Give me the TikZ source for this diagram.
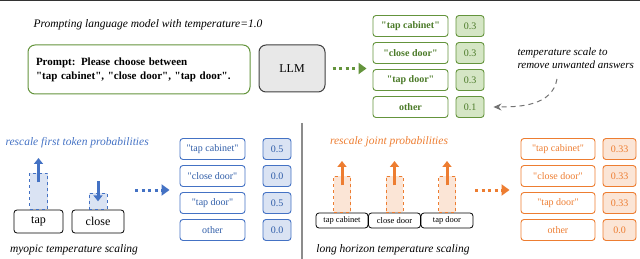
\documentclass[tikz,border=0pt]{standalone}
\usepackage{fontspec}
\setmainfont{Liberation Serif}[Ligatures=TeXOff]
\usepackage{tikz}
\usetikzlibrary{positioning, arrows.meta}
\usepackage{xcolor}

\definecolor{tgreen}{HTML}{64943C}
\definecolor{tgreentext}{HTML}{4B7A28}
\definecolor{tgreenfill}{HTML}{D5E6C5}
\definecolor{tblue}{HTML}{4472C4}
\definecolor{tbluetext}{HTML}{2F5DA8}
\definecolor{tbluefill}{HTML}{DAE3F3}
\definecolor{torange}{HTML}{ED7D31}
\definecolor{torangefill}{HTML}{FBE5D6}

\tikzset{
    optbox/.style={draw, rounded corners=3pt, line width=0.9pt, minimum height=21pt, inner sep=0pt,
        font=\fontsize{10}{12}\selectfont},
    valbox/.style={optbox, minimum width=28pt},
    tokbox/.style={draw, rounded corners=3pt, line width=0.8pt, inner sep=0pt},
    probbar/.style={draw, dashed, line width=0.6pt, minimum width=18pt, inner sep=0pt, anchor=south},
    thickarrow/.style={line width=3pt, -{Triangle[length=6pt,width=9pt]}},
    dotarrow/.style={line width=3pt, dash pattern=on 3pt off 3.5pt, -{Triangle[length=8pt,width=11pt]}},
    caption/.style={font=\fontsize{11.5}{13}\selectfont\itshape}
}

\begin{document}
\begin{tikzpicture}[x=1pt, y=-1pt]
    \useasboundingbox (0,0) rectangle (640,259);
    % rule along the top and divider between the two lower panels
    \draw[line width=1.5pt, black!80] (0,0.75) -- (640,0.75);
    \draw[line width=2.5pt, black!45] (302,123) -- (302,259);

    % top: prompting the model
    \node[caption, anchor=west] (title) at (30,25) {Prompting language model with temperature=1.0};
    \node[draw=tgreen, rounded corners=7pt, line width=1pt, minimum width=222pt, minimum height=49pt,
        text width=206pt, align=left, inner xsep=8pt, font=\fontsize{11}{14}\selectfont\bfseries]
        (prompt) at (139,69.5) {Prompt: Please choose between\\"tap cabinet", "close door", "tap door".};
    \node[draw=black!75, fill=black!9, rounded corners=7pt, line width=1pt, minimum width=66pt,
        minimum height=47pt, font=\fontsize{12}{14}\selectfont] (llm) at (292,68.5) {LLM};

    % green answers
    \node[optbox, draw=tgreen, text=tgreentext, minimum width=75pt, font=\fontsize{10}{12}\selectfont\bfseries] (ga1) at (410.5,26) {"tap cabinet"};
    \node[optbox, draw=tgreen, text=tgreentext, minimum width=75pt, font=\fontsize{10}{12}\selectfont\bfseries] (ga2) at (410.5,53) {"close door"};
    \node[optbox, draw=tgreen, text=tgreentext, minimum width=75pt, font=\fontsize{10}{12}\selectfont\bfseries] (ga3) at (410.5,80) {"tap door"};
    \node[optbox, draw=tgreen, text=tgreentext, minimum width=75pt, font=\fontsize{10}{12}\selectfont\bfseries] (ga4) at (410.5,107) {other};
    \node[valbox, draw=tgreen, fill=tgreenfill, text=tgreentext] (gv1) at (470,26) {0.3};
    \node[valbox, draw=tgreen, fill=tgreenfill, text=tgreentext] (gv2) at (470,53) {0.3};
    \node[valbox, draw=tgreen, fill=tgreenfill, text=tgreentext] (gv3) at (470,80) {0.3};
    \node[valbox, draw=tgreen, fill=tgreenfill, text=tgreentext] (gv4) at (470,107) {0.1};

    \draw[dotarrow, tgreen, shorten <=7pt, shorten >=6pt] (llm.east) -- (llm.east -| ga1.west);

    % note on temperature scaling
    \node[caption, anchor=west, align=left, font=\fontsize{11}{13}\selectfont\itshape] (note) at (514,58.5)
        {temperature scale to\\remove unwanted answers};
    \coordinate (notefoot) at (557,79);
    \draw[black!55, line width=1pt, dash pattern=on 5pt off 4pt, -{Stealth[length=8pt,width=7pt]}]
        (notefoot) to[out=-100, in=0] ([xshift=9pt]gv4.east);

    % lower left: myopic scaling
    \node[caption, anchor=west, text=tblue] (myolabel) at (2,143) {rescale first token probabilities};
    \node[tokbox, minimum width=49pt, minimum height=23pt, font=\fontsize{12}{14}\selectfont] (tap) at (38.5,221.5) {tap};
    \node[tokbox, minimum width=52pt, minimum height=23pt, font=\fontsize{12}{14}\selectfont] (close) at (98,221.5) {close};
    \node[probbar, draw=tblue, fill=tbluefill, minimum height=36pt] (tapbar) at (tap.north) {};
    \node[probbar, draw=tblue, fill=tbluefill, minimum height=16pt] (closebar) at (close.north) {};
    \draw[thickarrow, tblue] ([yshift=9pt]tapbar.center) -- ([yshift=15pt]tapbar.north);
    \draw[thickarrow, tblue] ([yshift=12pt]closebar.north) -- (closebar.center);
    \node[caption] (myocap) at (74,250) {myopic temperature scaling};

    \node[optbox, draw=tblue, text=tbluetext, minimum width=65pt] (ba1) at (212.5,149) {"tap cabinet"};
    \node[optbox, draw=tblue, text=tbluetext, minimum width=65pt] (ba2) at (212.5,176) {"close door"};
    \node[optbox, draw=tblue, text=tbluetext, minimum width=65pt] (ba3) at (212.5,203) {"tap door"};
    \node[optbox, draw=tblue, text=tbluetext, minimum width=65pt] (ba4) at (212.5,230) {other};
    \node[valbox, draw=tblue, fill=tbluefill, text=tbluetext] (bv1) at (277,149) {0.5};
    \node[valbox, draw=tblue, fill=tbluefill, text=tbluetext] (bv2) at (277,176) {0.0};
    \node[valbox, draw=tblue, fill=tbluefill, text=tbluetext] (bv3) at (277,203) {0.5};
    \node[valbox, draw=tblue, fill=tbluefill, text=tbluetext] (bv4) at (277,230) {0.0};

    \coordinate (bstart) at (135,190);
    \draw[dotarrow, tblue, shorten >=10pt] (bstart) -- (bstart -| ba1.west);

    % lower right: long horizon scaling
    \node[caption, text=torange] (longlabel) at (389,142) {rescale joint probabilities};
    \node[tokbox, minimum width=52pt, minimum height=15pt, font=\fontsize{8.5}{10}\selectfont] (tapcab) at (342,220.5) {tap cabinet};
    \node[tokbox, minimum width=52pt, minimum height=15pt, font=\fontsize{8.5}{10}\selectfont] (closedoor) at (394.5,220.5) {close door};
    \node[tokbox, minimum width=52pt, minimum height=15pt, font=\fontsize{8.5}{10}\selectfont] (tapdoor) at (447,220.5) {tap door};
    \node[probbar, draw=torange, fill=torangefill, minimum width=17pt, minimum height=36pt] (tapcabbar) at (tapcab.north) {};
    \node[probbar, draw=torange, fill=torangefill, minimum width=17pt, minimum height=36pt] (closedoorbar) at (closedoor.north) {};
    \node[probbar, draw=torange, fill=torangefill, minimum width=17pt, minimum height=36pt] (tapdoorbar) at (tapdoor.north) {};
    \draw[thickarrow, torange] ([yshift=9pt]tapcabbar.center) -- ([yshift=15pt]tapcabbar.north);
    \draw[thickarrow, torange] ([yshift=9pt]closedoorbar.center) -- ([yshift=15pt]closedoorbar.north);
    \draw[thickarrow, torange] ([yshift=9pt]tapdoorbar.center) -- ([yshift=15pt]tapdoorbar.north);
    \node[caption] (longcap) at (393,250) {long horizon temperature scaling};

    \node[optbox, draw=torange, text=torange, minimum width=74pt] (oa1) at (558,149) {"tap cabinet"};
    \node[optbox, draw=torange, text=torange, minimum width=74pt] (oa2) at (558,176) {"close door"};
    \node[optbox, draw=torange, text=torange, minimum width=74pt] (oa3) at (558,203) {"tap door"};
    \node[optbox, draw=torange, text=torange, minimum width=74pt] (oa4) at (558,230) {other};
    \node[valbox, draw=torange, fill=torangefill, text=torange, minimum width=33pt] (ov1) at (619.5,149) {0.33};
    \node[valbox, draw=torange, fill=torangefill, text=torange, minimum width=33pt] (ov2) at (619.5,176) {0.33};
    \node[valbox, draw=torange, fill=torangefill, text=torange, minimum width=33pt] (ov3) at (619.5,203) {0.33};
    \node[valbox, draw=torange, fill=torangefill, text=torange, minimum width=33pt] (ov4) at (619.5,230) {0.0};

    \coordinate (ostart) at (475,190);
    \draw[dotarrow, torange, shorten >=11pt] (ostart) -- (ostart -| oa1.west);
\end{tikzpicture}
\end{document}
